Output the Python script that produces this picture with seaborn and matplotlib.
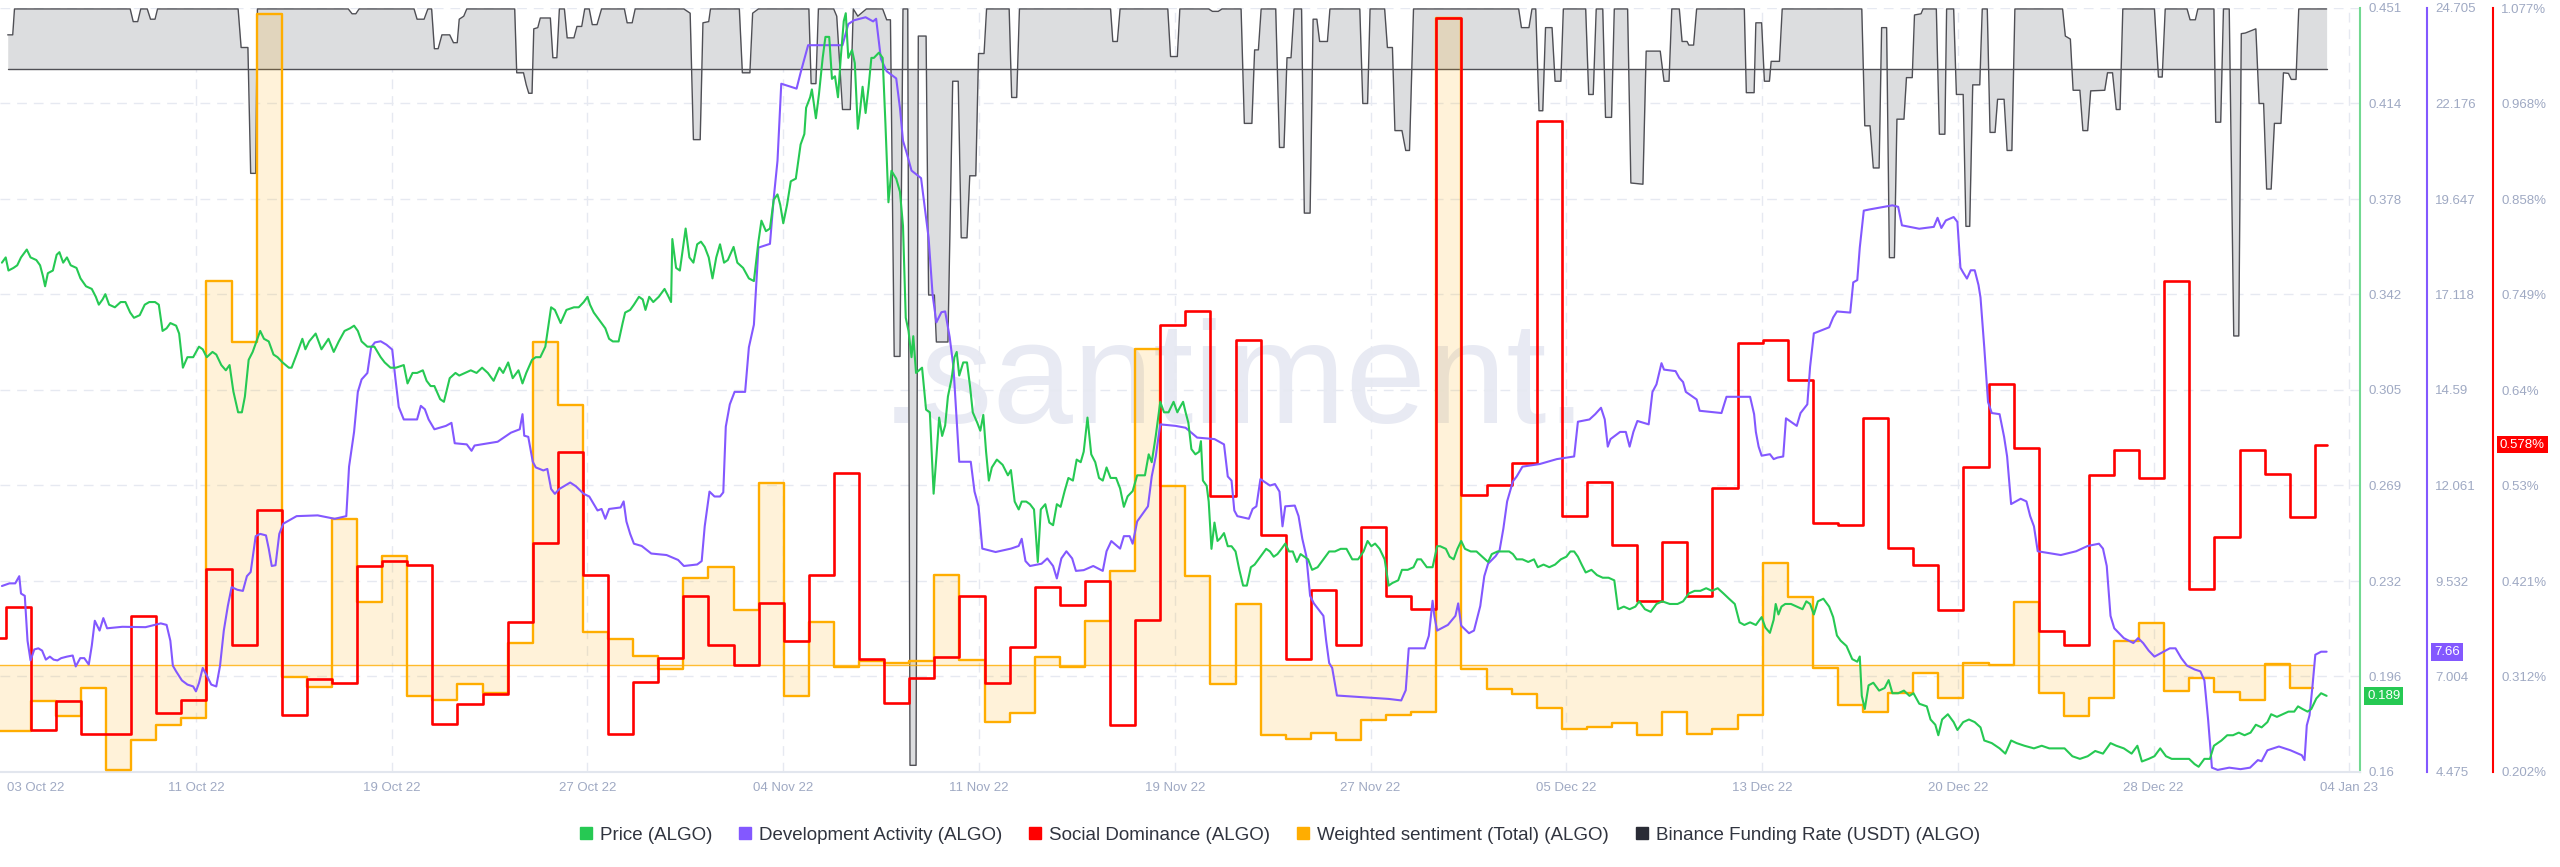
import numpy as np
import matplotlib
matplotlib.use("Agg")
import matplotlib.pyplot as plt
import matplotlib.dates as mdates
import matplotlib.transforms as mtransforms
from matplotlib.lines import Line2D
import seaborn as sns
from datetime import datetime

sns.set_theme(style="white")
plt.rcParams['font.family'] = ['Liberation Sans', 'DejaVu Sans']

# ---------------- data ----------------
START = datetime(2022, 10, 3)

x_tick_labels = ["11 Oct 22", "19 Oct 22", "27 Oct 22", "04 Nov 22", "11 Nov 22", "19 Nov 22",
                 "27 Nov 22", "05 Dec 22", "13 Dec 22", "20 Dec 22", "28 Dec 22", "04 Jan 23"]
first_label = "03 Oct 22"
price_ticks = ["0.16", "0.196", "0.232", "0.269", "0.305", "0.342", "0.378", "0.414", "0.451"]
dev_ticks = ["4.475", "7.004", "9.532", "12.061", "14.59", "17.118", "19.647", "22.176", "24.705"]
sd_ticks = ["0.202%", "0.312%", "0.421%", "0.53%", "0.64%", "0.749%", "0.858%", "0.968%", "1.077%"]

# Price (ALGO), days since 03 Oct 22
price_days = [-0.15, 0.00, 0.11, 0.31, 0.46, 0.61, 0.84, 0.99, 1.22, 1.37, 1.48, 1.57, 1.68, 1.88, 2.03, 2.14, 2.29, 2.44, 2.59, 2.82, 2.98, 3.20, 3.43, 3.59, 3.71, 3.86, 3.97, 4.12, 4.35, 4.58, 4.77, 4.96, 5.11, 5.34, 5.54, 5.72, 5.95, 6.10, 6.25, 6.41, 6.56, 6.79, 6.91, 7.06, 7.24, 7.47, 7.70, 7.85, 8.01, 8.24, 8.39, 8.59, 8.77, 8.92, 9.07, 9.26, 9.41, 9.53, 9.68, 9.84, 9.99, 10.14, 10.29, 10.48, 10.67, 10.83, 11.03, 11.28, 11.39, 11.59, 11.82, 11.94, 12.09, 12.35, 12.58, 12.86, 13.07, 13.27, 13.50, 13.72, 13.88, 14.03, 14.18, 14.41, 14.69, 14.94, 15.10, 15.33, 15.55, 15.86, 16.01, 16.21, 16.39, 16.62, 16.77, 16.93, 17.08, 17.31, 17.46, 17.69, 17.92, 18.07, 18.30, 18.53, 18.76, 18.98, 19.21, 19.44, 19.67, 19.82, 20.02, 20.20, 20.43, 20.59, 20.74, 20.97, 21.12, 21.30, 21.50, 21.73, 21.88, 22.11, 22.34, 22.64, 22.83, 23.03, 23.18,
              23.28, 23.43, 23.66, 23.89, 24.04, 24.19, 24.42, 24.58, 24.68, 24.88, 25.03, 25.23, 25.38, 25.49, 25.64, 25.80, 26.02, 26.25, 26.41, 26.51, 26.56, 26.71, 26.86, 27.09, 27.24, 27.40, 27.55, 27.70, 27.85, 28.01, 28.16, 28.31, 28.46, 28.62, 28.77, 29.00, 29.15, 29.38, 29.61, 29.81, 29.99, 30.11, 30.29, 30.45, 30.60, 30.75, 30.86, 30.98, 31.13, 31.28, 31.48, 31.67, 31.82, 31.89, 32.05, 32.12, 32.28, 32.40, 32.55, 32.66, 32.81, 32.92, 33.04, 33.16, 33.27, 33.39, 33.47, 33.57, 33.72, 33.83, 33.95, 34.03, 34.14, 34.26, 34.38, 34.49, 34.59, 34.79, 34.94, 35.05, 35.17, 35.29, 35.48, 35.63, 35.75, 35.86, 35.97, 36.09, 36.16, 36.27, 36.39, 36.51, 36.67, 36.82, 36.97, 37.08, 37.19, 37.31, 37.43, 37.54, 37.69, 37.80, 37.89, 37.99, 38.15, 38.30, 38.42, 38.53, 38.71, 38.83, 38.95, 39.06, 39.17, 39.29, 39.49, 39.72, 39.93, 40.05, 40.20, 40.36, 40.48, 40.66, 40.81, 40.97, 41.04, 41.12, 41.24, 41.42, 41.58, 41.73, 41.88, 42.03, 42.19, 42.34, 42.52, 42.67, 42.83, 42.95, 43.10, 43.25, 43.41, 43.56, 43.71, 43.86, 44.02, 44.24, 44.40, 44.55, 44.70, 44.90, 45.08, 45.24, 45.39, 45.54, 45.66, 45.82, 46.00, 46.15, 46.33, 46.53, 46.68,
              46.79, 46.91, 47.01, 47.12, 47.24, 47.40, 47.55, 47.62, 47.70, 47.85, 47.93, 48.04, 48.16, 48.28, 48.39, 48.54, 48.69, 48.84, 49.00, 49.15, 49.30, 49.45, 49.61, 49.76, 49.99, 50.22, 50.37, 50.52, 50.67, 50.83, 50.98, 51.13, 51.28, 51.44, 51.59, 51.74, 51.89, 52.05, 52.27, 52.50, 52.73, 52.96, 53.19, 53.42, 53.65, 53.88, 54.10, 54.26, 54.41, 54.56, 54.74, 54.94, 55.10, 55.25, 55.48, 55.63, 55.86, 56.09, 56.24, 56.39, 56.62, 56.85, 57.03, 57.15, 57.38, 57.53, 57.69, 57.84, 57.99, 58.14, 58.37, 58.60, 58.83, 59.06, 59.21, 59.44, 59.67, 59.90, 60.05, 60.20, 60.43, 60.66, 60.89, 61.04, 61.27, 61.50, 61.73, 61.96, 62.18, 62.34, 62.49, 62.64, 62.79, 62.95, 63.18, 63.40, 63.63, 63.86, 64.09, 64.24, 64.47, 64.70, 64.93, 65.08, 65.31, 65.54, 65.77, 66.00, 66.30, 66.61, 66.83, 67.06, 67.29, 67.52, 67.75, 67.98, 68.21, 68.44, 68.66, 68.89, 69.08, 69.27, 69.50, 69.73, 69.96, 70.11,
              70.29, 70.44, 70.52, 70.63, 70.75, 70.90, 71.13, 71.36, 71.59, 71.74, 71.89, 72.04, 72.20, 72.42, 72.65, 72.81, 72.96, 73.11, 73.34, 73.57, 73.77, 73.87, 73.95, 74.07, 74.22, 74.41, 74.64, 74.86, 75.02, 75.17, 75.40, 75.63, 75.85, 76.01, 76.24, 76.54, 76.69, 76.88, 77.00, 77.15, 77.38, 77.61, 77.76, 77.99, 78.22, 78.45, 78.68, 78.83, 79.13, 79.44, 79.67, 79.90, 80.12, 80.43, 80.81, 81.12, 81.42, 81.73, 82.03, 82.34, 82.64, 82.95, 83.25, 83.56, 83.86, 84.09, 84.39, 84.70, 84.93, 85.11, 85.38, 85.61, 85.84, 86.07, 86.30, 86.53, 86.76, 86.99, 87.21, 87.37, 87.60, 87.82, 87.98, 88.28, 88.51, 88.74, 88.97, 89.20, 89.44, 89.65, 89.88, 90.11, 90.26, 90.49, 90.72, 90.95, 91.18, 91.33, 91.51, 91.71, 91.86, 92.06, 92.25, 92.47]
price_vals = [0.354, 0.356, 0.351, 0.352, 0.353, 0.356, 0.359, 0.356, 0.355, 0.353, 0.349, 0.345, 0.350, 0.351, 0.357, 0.358, 0.354, 0.356, 0.353, 0.352, 0.348, 0.345, 0.344, 0.341, 0.338, 0.340, 0.342, 0.338, 0.337, 0.339, 0.339, 0.335, 0.333, 0.334, 0.338, 0.339, 0.339, 0.338, 0.328, 0.329, 0.331, 0.330, 0.327, 0.314, 0.318, 0.318, 0.322, 0.321, 0.318, 0.320, 0.319, 0.315, 0.313, 0.315, 0.305, 0.297, 0.297, 0.303, 0.317, 0.320, 0.324, 0.328, 0.325, 0.324, 0.319, 0.318, 0.316, 0.314, 0.314, 0.319, 0.325, 0.321, 0.324, 0.327, 0.321, 0.325, 0.320, 0.324, 0.328, 0.329, 0.330, 0.328, 0.324, 0.322, 0.322, 0.318, 0.316, 0.314, 0.314, 0.315, 0.308, 0.312, 0.312, 0.313, 0.309, 0.307, 0.307, 0.302, 0.301, 0.310, 0.312, 0.311, 0.312, 0.313, 0.312, 0.314, 0.312, 0.309, 0.314, 0.312, 0.316, 0.310, 0.313, 0.308, 0.312, 0.317, 0.318, 0.318, 0.322, 0.337, 0.336, 0.331, 0.336, 0.337, 0.337, 0.339, 0.341,
              0.338, 0.335, 0.332, 0.329, 0.325, 0.324, 0.324, 0.331, 0.335, 0.336, 0.338, 0.341, 0.340, 0.336, 0.341, 0.339, 0.341, 0.344, 0.341, 0.339, 0.363, 0.352, 0.351, 0.367, 0.356, 0.354, 0.361, 0.362, 0.360, 0.356, 0.348, 0.356, 0.361, 0.354, 0.355, 0.360, 0.354, 0.352, 0.348, 0.347, 0.362, 0.370, 0.366, 0.367, 0.378, 0.380, 0.376, 0.369, 0.376, 0.385, 0.386, 0.399, 0.403, 0.413, 0.417, 0.420, 0.409, 0.418, 0.432, 0.440, 0.440, 0.424, 0.425, 0.417, 0.432, 0.446, 0.449, 0.432, 0.435, 0.430, 0.405, 0.411, 0.421, 0.411, 0.421, 0.432, 0.432, 0.434, 0.432, 0.407, 0.377, 0.389, 0.386, 0.381, 0.368, 0.333, 0.328, 0.318, 0.326, 0.312, 0.313, 0.314, 0.298, 0.297, 0.266, 0.280, 0.295, 0.288, 0.292, 0.303, 0.310, 0.318, 0.320, 0.311, 0.316, 0.316, 0.307, 0.297, 0.293, 0.290, 0.296, 0.282, 0.271, 0.276, 0.279, 0.277, 0.273, 0.275, 0.263, 0.260, 0.263, 0.263, 0.262, 0.260, 0.251, 0.240, 0.260, 0.262, 0.255, 0.254, 0.262, 0.261, 0.267, 0.272, 0.271, 0.279, 0.278, 0.282, 0.295, 0.281, 0.278, 0.272, 0.271, 0.276, 0.272, 0.272, 0.268, 0.261, 0.265, 0.267, 0.273, 0.273, 0.273, 0.281, 0.278, 0.288, 0.301, 0.297, 0.297, 0.301, 0.297,
              0.299, 0.301, 0.297, 0.293, 0.283, 0.281, 0.282, 0.286, 0.271, 0.269, 0.263, 0.245, 0.255, 0.248, 0.249, 0.251, 0.246, 0.246, 0.244, 0.237, 0.231, 0.231, 0.238, 0.239, 0.242, 0.245, 0.244, 0.242, 0.243, 0.245, 0.247, 0.244, 0.244, 0.240, 0.243, 0.242, 0.241, 0.237, 0.238, 0.241, 0.244, 0.244, 0.245, 0.245, 0.241, 0.241, 0.244, 0.248, 0.246, 0.247, 0.245, 0.241, 0.231, 0.232, 0.233, 0.237, 0.237, 0.238, 0.241, 0.241, 0.238, 0.238, 0.246, 0.246, 0.245, 0.242, 0.241, 0.245, 0.248, 0.245, 0.244, 0.244, 0.242, 0.240, 0.243, 0.244, 0.244, 0.244, 0.243, 0.241, 0.241, 0.240, 0.241, 0.238, 0.239, 0.238, 0.239, 0.241, 0.242, 0.244, 0.244, 0.242, 0.239, 0.236, 0.237, 0.235, 0.234, 0.234, 0.233, 0.222, 0.223, 0.222, 0.223, 0.225, 0.222, 0.221, 0.224, 0.225, 0.224, 0.224, 0.225, 0.228, 0.229, 0.229, 0.230, 0.229, 0.230, 0.228, 0.226, 0.224, 0.217, 0.216, 0.217, 0.216, 0.219, 0.215,
              0.213, 0.218, 0.224, 0.220, 0.223, 0.224, 0.224, 0.223, 0.222, 0.225, 0.224, 0.220, 0.225, 0.226, 0.223, 0.219, 0.212, 0.210, 0.208, 0.203, 0.202, 0.204, 0.189, 0.184, 0.193, 0.194, 0.191, 0.192, 0.195, 0.190, 0.190, 0.191, 0.189, 0.190, 0.186, 0.185, 0.180, 0.178, 0.174, 0.180, 0.182, 0.179, 0.176, 0.179, 0.180, 0.179, 0.177, 0.172, 0.171, 0.169, 0.167, 0.172, 0.171, 0.170, 0.169, 0.170, 0.169, 0.169, 0.169, 0.166, 0.165, 0.166, 0.168, 0.167, 0.171, 0.170, 0.169, 0.167, 0.170, 0.164, 0.165, 0.166, 0.169, 0.166, 0.165, 0.165, 0.165, 0.165, 0.163, 0.162, 0.165, 0.165, 0.170, 0.172, 0.174, 0.174, 0.175, 0.174, 0.175, 0.178, 0.177, 0.179, 0.182, 0.181, 0.182, 0.183, 0.183, 0.185, 0.184, 0.183, 0.184, 0.188, 0.190, 0.189]

# Development Activity (ALGO)
dev_days = [-0.15, 0.15, 0.38, 0.54, 0.61, 0.76, 0.87, 0.99, 1.14, 1.30, 1.45, 1.60, 1.76, 1.91, 2.06, 2.21, 2.44, 2.67, 2.79, 2.97, 3.13, 3.31, 3.43, 3.55, 3.74, 3.89, 4.04, 4.65, 5.57, 6.18, 6.41, 6.56, 6.66, 6.79, 7.02, 7.24, 7.47, 7.58, 7.70, 7.85, 8.01, 8.19, 8.39, 8.54, 8.69, 8.85, 9.00, 9.23, 9.45, 9.61, 9.76, 9.96, 10.14, 10.37, 10.48, 10.60, 10.75, 10.90, 11.06, 11.59, 12.43, 13.11, 13.57, 13.68, 13.88, 14.03, 14.18, 14.41, 14.56, 14.71, 14.94, 15.17, 15.40, 15.52, 15.66, 15.86, 16.39, 16.54, 16.70, 16.85, 17.08, 17.54, 17.76, 17.89, 18.37, 18.56, 18.68, 19.60, 20.13, 20.48, 20.59, 20.66, 20.82, 21.00, 21.12, 21.42, 21.58, 21.73, 21.88, 22.06, 22.49, 22.72, 23.03, 23.25,
            23.58, 23.74, 23.89, 24.04, 24.50, 24.62, 24.73, 24.88, 25.03, 25.34, 25.72, 26.33, 26.79, 27.02, 27.55, 27.73, 27.85, 28.04, 28.24, 28.46, 28.59, 28.69, 28.85, 29.04, 29.46, 29.61, 29.81, 29.99, 30.45, 30.60, 30.75, 30.90, 31.51, 31.67, 31.82, 31.97, 33.34, 33.57, 33.80, 34.26, 34.56, 34.68, 34.87, 35.10, 35.48, 35.63, 35.75, 35.90, 36.09, 36.47, 36.62, 36.77, 36.93, 37.08, 37.28, 37.43, 37.61, 37.76, 37.99, 38.45, 38.60, 38.76, 38.91, 39.44, 40.05, 40.36, 40.48, 40.63, 40.81, 41.27, 41.50, 41.73, 41.88, 42.06, 42.26, 42.49, 42.64, 42.95, 43.33, 43.71, 43.86, 44.05, 44.40, 44.55, 44.78, 44.90, 45.08, 45.51, 45.66, 45.82, 46.00, 46.61,
            47.01, 47.47, 48.16, 48.54, 48.69, 48.84, 48.95, 49.07, 49.53, 49.68, 49.83, 49.99, 50.37, 50.57, 50.75, 50.87, 50.98, 51.36, 51.51, 51.66, 51.82, 51.97, 52.12, 52.50, 52.61, 52.73, 52.85, 53.04, 55.10, 55.60, 55.78, 55.90, 56.54, 56.70, 56.85, 56.92, 57.03, 57.46, 57.76, 57.87, 57.99, 58.30, 58.50, 58.75, 58.91, 59.06, 59.36, 59.52, 59.67, 59.82, 60.05, 60.20, 60.43, 61.12, 61.80, 62.49, 62.64, 63.10, 63.33, 63.56, 63.71, 63.83, 63.94, 64.32, 64.55, 64.70, 64.85, 65.01, 65.46, 65.61, 65.77, 65.97, 66.07, 66.53, 66.68, 66.83, 66.94, 67.37, 67.49, 68.36, 68.56, 69.50, 69.66, 69.73, 69.84, 69.96,
            70.29, 70.44, 70.59, 70.82, 70.93, 71.36, 71.51, 71.78, 71.89, 72.04, 72.65, 72.81, 72.96, 73.49, 73.61, 73.77, 73.87, 74.03, 74.25, 75.17, 75.40, 75.55, 76.24, 76.82, 76.97, 77.12, 77.30, 77.61, 77.76, 77.88, 77.99, 78.14, 78.29, 78.45, 78.60, 78.68, 78.83, 78.98, 79.13, 79.44, 79.62, 79.74, 79.90, 80.28, 80.51, 80.66, 80.81, 80.96, 81.88, 82.49, 82.95, 83.40, 83.56, 83.71, 83.86, 84.01, 84.39, 84.77, 84.96, 85.16, 85.38, 85.61, 86.22, 86.45, 86.68, 86.91, 87.21, 87.44, 87.60, 87.75, 87.90, 88.13, 88.59, 89.04, 89.42, 89.73, 89.88, 90.11, 90.57, 91.03, 91.48, 91.59, 91.68, 91.79, 91.91, 92.02, 92.25, 92.47]
dev_vals = [9.40, 9.47, 9.47, 9.66, 9.20, 9.14, 7.95, 7.43, 7.72, 7.75, 7.69, 7.45, 7.53, 7.45, 7.43, 7.49, 7.53, 7.56, 7.27, 7.49, 7.49, 7.32, 7.82, 8.48, 8.22, 8.55, 8.28, 8.32, 8.31, 8.41, 8.37, 7.95, 7.29, 7.14, 6.90, 6.79, 6.74, 6.61, 6.83, 7.23, 7.03, 6.79, 6.74, 7.29, 8.22, 8.87, 9.37, 9.30, 9.27, 9.66, 9.77, 10.72, 10.78, 10.74, 10.39, 9.93, 9.95, 10.78, 11.05, 11.25, 11.27, 11.18, 11.25, 12.56, 13.48, 14.54, 14.87, 15.04, 15.72, 15.85, 15.88, 15.79, 15.66, 14.93, 14.14, 13.81, 13.81, 14.17, 14.08, 13.81, 13.55, 13.64, 13.72, 13.18, 13.15, 12.98, 13.12, 13.22, 13.46, 13.55, 13.95, 13.38, 13.35, 12.69, 12.54, 12.46, 12.50, 11.97, 11.84, 11.97, 12.14, 12.04, 11.84, 11.77,
            11.40, 11.44, 11.18, 11.44, 11.48, 11.64, 11.11, 10.78, 10.52, 10.46, 10.26, 10.22, 10.09, 9.93, 9.97, 10.06, 10.98, 11.90, 11.77, 11.77, 11.88, 13.62, 14.21, 14.54, 14.54, 15.72, 16.32, 18.36, 18.46, 19.67, 20.66, 22.70, 22.57, 22.99, 23.36, 23.72, 23.72, 24.28, 24.38, 24.46, 24.35, 24.42, 23.36, 23.03, 22.84, 22.05, 21.19, 20.86, 20.40, 20.20, 19.41, 18.62, 17.11, 16.38, 16.65, 16.67, 15.99, 15.20, 12.69, 12.69, 11.90, 11.51, 10.39, 10.30, 10.39, 10.46, 10.65, 10.06, 9.93, 9.99, 10.13, 9.93, 9.60, 10.13, 10.32, 10.13, 9.80, 9.82, 9.93, 9.80, 10.32, 10.59, 10.39, 10.72, 10.72, 10.52, 11.11, 11.51, 12.30, 12.83, 13.68, 13.64,
            13.59, 13.33, 13.29, 13.15, 12.30, 12.19, 11.40, 11.25, 11.18, 11.44, 11.51, 12.23, 12.06, 12.10, 11.90, 10.98, 11.51, 11.53, 11.25, 10.65, 10.19, 9.14, 8.94, 8.61, 7.95, 7.36, 7.23, 6.50, 6.41, 6.37, 6.64, 7.75, 7.75, 8.08, 9.01, 8.61, 8.22, 8.37, 8.61, 8.94, 8.35, 8.15, 8.22, 8.87, 9.66, 9.99, 10.19, 10.35, 10.92, 11.64, 12.17, 12.30, 12.56, 12.63, 12.76, 12.83, 13.75, 13.81, 13.95, 14.12, 13.81, 13.09, 13.29, 13.48, 13.48, 13.09, 13.48, 13.77, 13.68, 14.54, 14.74, 15.30, 15.13, 15.09, 14.91, 14.80, 14.54, 14.34, 14.04, 13.98, 14.41, 14.41, 13.95, 13.48, 13.09, 12.85,
            12.89, 12.76, 12.80, 12.83, 13.84, 13.64, 13.98, 14.21, 15.20, 16.09, 16.25, 16.51, 16.67, 16.64, 17.44, 17.50, 18.36, 19.34, 19.37, 19.48, 19.44, 18.95, 18.86, 18.91, 19.15, 18.88, 19.08, 19.17, 19.04, 17.83, 17.70, 17.54, 17.76, 17.76, 17.37, 17.04, 15.72, 14.27, 13.98, 13.95, 13.35, 12.83, 11.57, 11.71, 11.64, 11.25, 10.98, 10.32, 10.22, 10.32, 10.46, 10.52, 10.39, 9.93, 8.61, 8.28, 8.02, 7.89, 8.02, 7.89, 7.69, 7.53, 7.75, 7.75, 7.49, 7.29, 7.19, 7.14, 6.90, 5.85, 4.59, 4.53, 4.59, 4.55, 4.59, 4.79, 4.76, 5.05, 5.15, 5.05, 4.92, 4.79, 5.71, 5.98, 6.77, 7.58, 7.66, 7.66]

# Social Dominance (ALGO), daily values (%) from 02 Oct 22; last point closes the step
sd_first_day = -1
sd_end_day = 92.47
sd_vals = [0.355, 0.391, 0.250, 0.283, 0.246, 0.246, 0.381, 0.270, 0.284, 0.434,
           0.347, 0.502, 0.267, 0.308, 0.304, 0.438, 0.444, 0.439, 0.257, 0.280,
           0.291, 0.374, 0.464, 0.568, 0.428, 0.245, 0.305, 0.332, 0.403, 0.347,
           0.324, 0.395, 0.352, 0.428, 0.545, 0.331, 0.281, 0.310, 0.334, 0.404,
           0.304, 0.345, 0.414, 0.393, 0.421, 0.256, 0.376, 0.714, 0.730, 0.518,
           0.697, 0.473, 0.331, 0.411, 0.348, 0.483, 0.404, 0.389, 1.066, 0.519,
           0.531, 0.556, 0.948, 0.495, 0.534, 0.462, 0.398, 0.465, 0.404, 0.527,
           0.693, 0.697, 0.651, 0.487, 0.485, 0.607, 0.459, 0.439, 0.388, 0.551,
           0.646, 0.573, 0.363, 0.348, 0.542, 0.571, 0.539, 0.764, 0.412, 0.471,
           0.571, 0.543, 0.494, 0.577]

# Weighted sentiment (Total) (ALGO), daily values from 02 Oct 22
ws_first_day = -1
ws_end_day = 91.94
ws_vals = [-0.84, -0.84, -0.46, -0.65, -0.29, -1.33, -0.95, -0.76, -0.67, 4.82,
           4.05, 8.18, -0.15, -0.28, 1.83, 0.79, 1.36, -0.40, -0.45, -0.25,
           -0.36, 0.27, 4.05, 3.26, 0.41, 0.32, 0.11, -0.06, 1.09, 1.23,
           0.69, 2.28, -0.39, 0.54, -0.03, 0.05, 0.02, 0.05, 1.13, 0.06,
           -0.72, -0.61, 0.09, -0.03, 0.55, 1.18, 3.96, 2.25, 1.11, -0.24,
           0.76, -0.89, -0.93, -0.86, -0.95, -0.70, -0.63, -0.59, 8.13, -0.06,
           -0.31, -0.37, -0.54, -0.81, -0.78, -0.74, -0.88, -0.59, -0.87, -0.81,
           -0.64, 1.28, 0.85, -0.04, -0.51, -0.59, -0.36, -0.11, -0.42, 0.02,
           -0.01, 0.79, -0.36, -0.65, -0.42, 0.30, 0.52, -0.33, -0.17, -0.34,
           -0.45, 0.01, -0.29]

# Binance Funding Rate (USDT) (ALGO), %
fr_days = [0.08, 0.28, 0.35, 4.96, 5.08, 5.26, 5.38, 5.64, 5.77, 5.95, 6.05, 9.26, 9.38, 9.65, 9.76, 9.96, 10.03, 13.65, 13.80, 13.95, 14.08, 16.27, 16.39, 16.67, 16.82, 16.97, 17.08, 17.23, 17.38, 17.69, 17.84, 17.99, 18.07, 18.25, 18.37, 20.28, 20.36, 20.63, 20.74, 20.84, 20.97, 21.04, 21.20, 21.30, 21.70, 21.80, 21.96, 22.06, 22.26, 22.37, 22.64, 22.76, 22.95, 23.07, 23.25, 23.37, 23.56, 23.74, 24.65, 24.76, 24.96, 25.08, 27.02, 27.27, 27.40, 27.67, 27.78, 28.01, 28.08, 29.23, 29.35, 29.65, 29.76, 29.99, 32.00, 32.09, 32.28, 32.38, 32.99, 33.11, 33.34, 33.65, 33.77, 33.95, 34.29, 34.94, 35.10, 35.25, 35.40, 35.63, 35.75, 35.94, 36.03, 36.27, 36.36, 36.67, 36.77, 37.00, 37.08, 37.54, 37.73, 37.95, 38.07, 38.30, 38.41, 38.65, 38.76, 38.98, 39.08, 39.98, 40.08, 40.28, 40.39, 44.02, 44.11, 44.29, 44.40, 46.30, 46.41, 46.68, 46.78, 47.93, 48.08, 48.31, 48.46, 49.22, 49.35, 49.65, 49.76, 49.91, 50.02, 50.60, 50.75, 50.93, 51.05, 51.21, 51.33, 51.63, 51.74, 51.97, 52.09, 52.24, 52.35, 52.66, 52.76, 53.95, 54.07, 54.26, 54.36, 54.94, 55.05, 55.25, 55.35, 55.63, 55.78, 55.93, 56.09, 60.28, 60.39, 60.69, 60.81, 60.96, 61.09, 61.24, 61.35, 61.61, 61.73, 61.96, 62.06, 62.95, 63.07, 63.25, 63.37, 63.63, 63.74, 63.98, 64.09, 64.62, 64.75, 65.23, 65.36, 65.92, 66.07, 66.27, 66.38, 66.68, 66.79, 66.99, 67.06, 67.25, 67.37, 69.27, 69.35, 69.66, 69.73, 69.96, 70.07, 70.27, 70.34, 70.67, 70.78, 73.95, 74.07, 74.28, 74.41, 74.64, 74.74, 74.94, 75.05, 75.25, 75.35, 75.63, 75.73, 75.96, 76.05, 76.31, 76.39, 76.92, 77.04, 77.26, 77.33, 77.61, 77.72, 77.99, 78.10, 78.25, 78.37, 78.65, 78.75, 78.95, 79.06, 79.26, 79.36, 79.62, 79.74, 79.93, 80.05, 81.95, 82.06, 82.26, 82.37, 82.64, 82.76, 82.95, 83.07, 83.63, 83.74, 83.94, 84.09, 84.24, 84.35, 85.61, 85.77, 85.92, 86.04, 86.91, 87.03, 87.24, 87.34, 87.98, 88.05, 88.25, 88.36, 88.59, 88.77, 88.97, 89.07, 89.23, 89.65, 89.78, 89.96, 90.08, 90.26, 90.39, 90.65, 90.75, 90.95, 91.06, 91.25, 91.36, 92.47]
fr_vals = [0.0057, 0.0057, 0.0100, 0.0100, 0.0079, 0.0079, 0.0100, 0.0100, 0.0083, 0.0083, 0.0100, 0.0100, 0.0036, 0.0036, -0.0173, -0.0173, 0.0100, 0.0100, 0.0092, 0.0092, 0.0100, 0.0100, 0.0083, 0.0083, 0.0100, 0.0100, 0.0034, 0.0034, 0.0057, 0.0057, 0.0044, 0.0044, 0.0083, 0.0088, 0.0100, 0.0100, -0.0006, -0.0006, -0.0026, -0.0040, -0.0040, 0.0067, 0.0069, 0.0085, 0.0085, 0.0019, 0.0019, 0.0100, 0.0100, 0.0052, 0.0052, 0.0071, 0.0071, 0.0100, 0.0100, 0.0074, 0.0074, 0.0100, 0.0100, 0.0077, 0.0077, 0.0100, 0.0100, 0.0093, -0.0117, -0.0117, 0.0077, 0.0079, 0.0100, 0.0100, -0.0006, -0.0006, 0.0093, 0.0100, 0.0100, -0.0024, -0.0024, 0.0100, 0.0100, 0.0088, -0.0067, -0.0067, 0.0100, 0.0088, 0.0100, 0.0100, 0.0082, 0.0082, -0.0477, -0.0477, 0.0100, 0.0100, -0.1156, -0.1156, 0.0055, 0.0055, -0.0375, -0.0375, -0.0453, -0.0453, -0.0020, -0.0020, -0.0280, -0.0280, -0.0177, -0.0177, 0.0026, 0.0026, 0.0100, 0.0100, -0.0047, -0.0047, 0.0100, 0.0100, 0.0046, 0.0046, 0.0100, 0.0100, 0.0021, 0.0021, 0.0100, 0.0100, 0.0096, 0.0096, 0.0100, 0.0100, -0.0090, -0.0090, 0.0032, 0.0032, 0.0100, 0.0100, -0.0130, -0.0130, 0.0019, 0.0019, 0.0100, 0.0100, -0.0239, -0.0239, 0.0083, 0.0083, 0.0046, 0.0046, 0.0100, 0.0100, -0.0057, -0.0057, 0.0100, 0.0100, 0.0036, 0.0036, -0.0102, -0.0102, -0.0135, -0.0135, 0.0100, 0.0100, 0.0069, 0.0069, 0.0100, 0.0100, -0.0069, -0.0069, 0.0069, 0.0069, -0.0020, -0.0020, 0.0100, 0.0100, -0.0042, -0.0042, 0.0100, 0.0100, -0.0080, -0.0080, 0.0100, 0.0100, -0.0189, -0.0191, 0.0030, 0.0030, -0.0020, -0.0020, 0.0100, 0.0100, 0.0046, 0.0046, 0.0040, 0.0040, 0.0100, 0.0100, -0.0039, -0.0039, 0.0077, 0.0077, -0.0020, -0.0020, 0.0013, 0.0013, 0.0100, 0.0100, -0.0094, -0.0094, -0.0164, -0.0164, 0.0069, 0.0069, -0.0313, -0.0313, -0.0083, -0.0083, -0.0014, -0.0014, 0.0090, 0.0092, 0.0100, 0.0100, -0.0108, -0.0108, 0.0100, 0.0100, -0.0042, -0.0042, -0.0261, -0.0261, -0.0026, -0.0026, 0.0100, 0.0100, -0.0105, -0.0105, -0.0050, -0.0050, -0.0135, -0.0135, 0.0100, 0.0100, 0.0055, 0.0050, -0.0035, -0.0035, -0.0102, -0.0102, -0.0036, -0.0035, -0.0006, -0.0006, -0.0067, -0.0067, 0.0100, 0.0100, -0.0013, -0.0013, 0.0100, 0.0100, 0.0082, 0.0082, 0.0100, 0.0100, -0.0088, -0.0088, 0.0100, 0.0100, -0.0443, -0.0443, 0.0059, 0.0060, 0.0067, -0.0057, -0.0057, -0.0199, -0.0199, -0.0090, -0.0090, -0.0006, -0.0007, -0.0017, -0.0017, 0.0100, 0.0100]

# ---------------- styling ----------------
C_PRICE = "#26C953"
C_DEV = "#8358FF"
C_SD = "#FF0000"
C_WS = "#FFAD00"
C_FR = "#4f4f55"
C_FR_FILL = "#dcdddf"
C_TICK = "#9fa9c3"
C_GRID = "#e6e9f1"
TICK_FS = 9.5

t0 = mdates.date2num(START)


def to_num(days):
    return t0 + np.asarray(days, dtype=float)


def daily(first, vals, end):
    d = list(first + np.arange(len(vals), dtype=float)) + [end]
    v = list(vals) + [vals[-1]]
    return to_num(d), np.array(v)


W, H = 2560, 867
fig = plt.figure(figsize=(W / 100, H / 100), dpi=100)
ax = fig.add_axes([0.0, 1 - 772 / H, 2360 / W, (772 - 8) / H])

ax_f = ax.twinx()
ax_s = ax.twinx()
ax_r = ax.twinx()
ax_d = ax.twinx()
ax_p = ax.twinx()
for i, a in enumerate([ax_f, ax_s, ax_r, ax_d, ax_p]):
    a.set_zorder(i + 1)
    a.patch.set_visible(False)
    for s in a.spines.values():
        s.set_visible(False)
ax.set_zorder(0)

xlim = (t0 - 0.227, t0 + 93.8)

# funding rate
fx = to_num(fr_days)
fv = np.array(fr_vals)
ax_f.fill_between(fx, fv, 0, color=C_FR_FILL, lw=0)
ax_f.plot([fx[0], fx[-1]], [0, 0], color=C_FR, lw=1.0)
sns.lineplot(x=fx, y=fv, ax=ax_f, color=C_FR, lw=1.0, estimator=None, sort=False)
ax_f.set_ylim(-0.11671, 0.01016)

# weighted sentiment
wx, wv = daily(ws_first_day, ws_vals, ws_end_day)
ax_s.fill_between(wx, wv, 0, step="post", color=C_WS, alpha=0.15, lw=0)
ax_s.plot([wx[0], wx[-1]], [0, 0], color=C_WS, lw=1.0, alpha=0.8)
sns.lineplot(x=wx, y=wv, ax=ax_s, color=C_WS, lw=1.7, estimator=None, sort=False,
             drawstyle="steps-post")
ax_s.set_ylim(-1.35, 8.25)

# social dominance
rx, rv = daily(sd_first_day, sd_vals, sd_end_day)
sns.lineplot(x=rx, y=rv, ax=ax_r, color=C_SD, lw=1.9, estimator=None, sort=False,
             drawstyle="steps-post")
ax_r.set_ylim(0.202, 1.077)

# dev activity
sns.lineplot(x=to_num(dev_days), y=np.array(dev_vals), ax=ax_d, color=C_DEV, lw=1.5,
             estimator=None, sort=False)
ax_d.set_ylim(4.475, 24.705)

# price
sns.lineplot(x=to_num(price_days), y=np.array(price_vals), ax=ax_p, color=C_PRICE, lw=1.5,
             estimator=None, sort=False)
ax_p.set_ylim(0.16, 0.451)

for a in [ax_f, ax_s, ax_r, ax_d, ax_p]:
    a.set_xlabel("")
    a.set_ylabel("")

# ---- base axis: grid, x labels, price labels ----
ax.set_ylim(0.16, 0.451)
ax.set_yticks(np.linspace(0.16, 0.451, 9))
ax.set_yticklabels(price_ticks)
ax.yaxis.tick_right()
ax.tick_params(axis="y", length=0, pad=6, labelsize=TICK_FS, labelcolor=C_TICK)
tick_pos = t0 + 7.58 + 7.80 * np.arange(len(x_tick_labels))
ax.set_xticks(tick_pos)
ax.set_xticklabels(x_tick_labels)
ax.tick_params(axis="x", length=0, pad=7, labelsize=TICK_FS, labelcolor=C_TICK)
ax.set_xlim(*xlim)
ax.grid(True, axis="both", color=C_GRID, lw=1.0, linestyle=(0, (7, 5)))
ax.set_axisbelow(True)
for k, s in ax.spines.items():
    s.set_visible(False)
ax.spines["bottom"].set_visible(True)
ax.spines["bottom"].set_color("#e2e6ee")
ax.spines["bottom"].set_linewidth(1.5)
ax.spines["right"].set_visible(True)
ax.spines["right"].set_color("#72d991")
ax.spines["right"].set_linewidth(1.5)
ax.annotate(first_label, xy=(0, 0), xycoords="axes fraction", xytext=(5, -7),
            textcoords="offset points", ha="left", va="top", fontsize=TICK_FS, color=C_TICK)

# watermark
ax.text(0.523, 0.4568, ".santiment.", transform=ax.transAxes, ha="center", va="baseline",
        fontsize=104, color="#e8eaf3", zorder=0.5)

# right axes for dev and social dominance
for a, pos, col, labels, lo, hi in [(ax_d, 2427 / 2360, C_DEV, dev_ticks, 4.475, 24.705),
                                    (ax_r, 2493 / 2360, C_SD, sd_ticks, 0.202, 1.077)]:
    a.spines["right"].set_visible(True)
    a.spines["right"].set_position(("axes", pos))
    a.spines["right"].set_color(col)
    a.spines["right"].set_linewidth(1.5)
    a.set_yticks(np.linspace(lo, hi, 9))
    a.set_yticklabels(labels)
    a.tick_params(axis="y", length=0, pad=6, labelsize=TICK_FS, labelcolor=C_TICK)
for a in [ax_f, ax_s, ax_p]:
    a.set_yticks([])

# last-value badges
def badge(a, xpos, y, txt, col):
    tr = mtransforms.blended_transform_factory(a.transAxes, a.transData)
    a.text(xpos, y, txt, transform=tr, ha="left", va="center", fontsize=TICK_FS,
           color="white", zorder=10, clip_on=False,
           bbox=dict(boxstyle="square,pad=0.22", fc=col, ec="none"))

badge(ax, 1 + 7 / 2360, price_vals[-1], "0.189", C_PRICE)
badge(ax_d, 2427 / 2360 + 7 / 2360, dev_vals[-1], "7.66", C_DEV)
badge(ax_r, 2493 / 2360 + 7 / 2360, sd_vals[-1], "0.578%", C_SD)

# legend
names = ["Price (ALGO)", "Development Activity (ALGO)", "Social Dominance (ALGO)",
         "Weighted sentiment (Total) (ALGO)", "Binance Funding Rate (USDT) (ALGO)"]
cols = [C_PRICE, C_DEV, C_SD, C_WS, "#2a2c36"]
handles = [Line2D([0], [0], marker="s", ls="none", markersize=8.5, markerfacecolor=c,
                  markeredgecolor=c) for c in cols]
fig.legend(handles, names, loc="center", bbox_to_anchor=(0.5, 1 - 835 / H), ncol=5,
           frameon=False, fontsize=13.5, handlelength=0.6, handletextpad=0.45,
           columnspacing=1.45, labelcolor="#30343f")

fig.savefig("out.png", dpi=100, facecolor="white")
